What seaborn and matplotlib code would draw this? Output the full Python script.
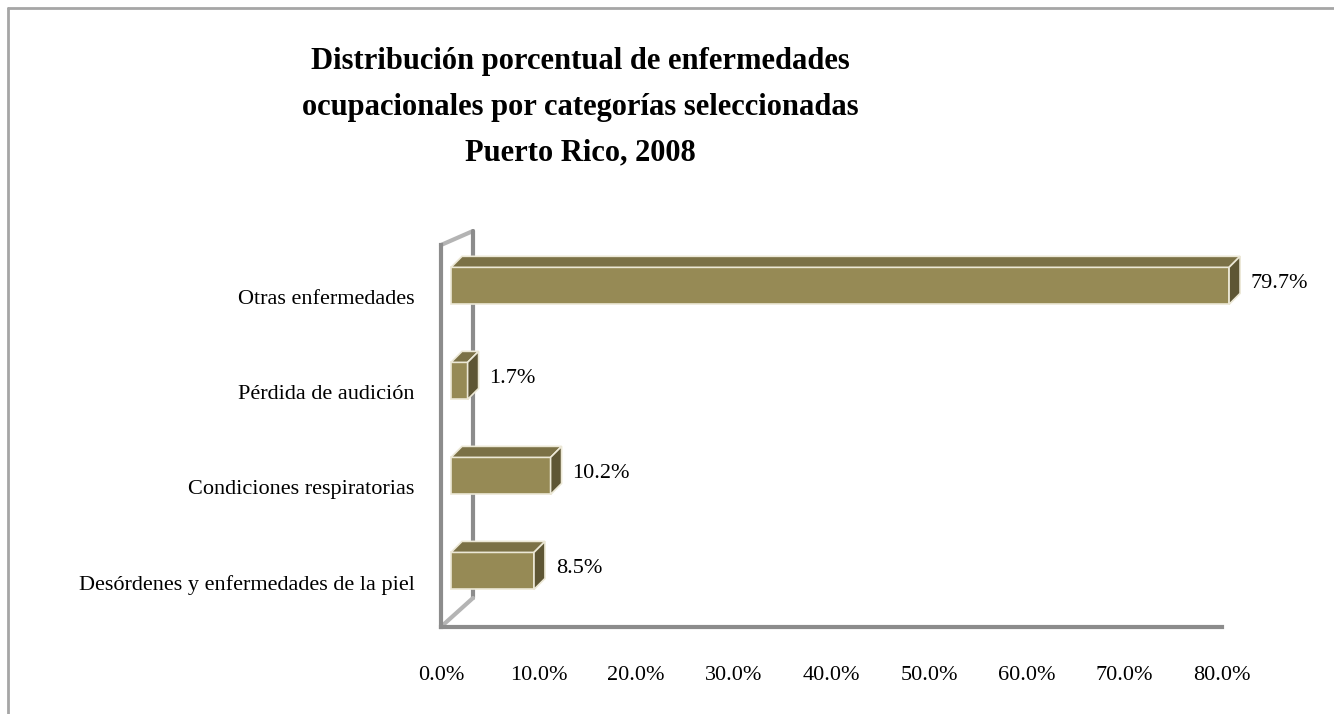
import matplotlib
matplotlib.use('Agg')
import matplotlib.pyplot as plt
import matplotlib.transforms as mtransforms
from matplotlib.lines import Line2D
from matplotlib.patches import Polygon
import pandas as pd
import seaborn as sns

# datos
categorias = ['Otras enfermedades', 'Pérdida de audición',
              'Condiciones respiratorias', 'Desórdenes y enfermedades de la piel']
porcentajes = [79.7, 1.7, 10.2, 8.5]
xticks = [0, 10, 20, 30, 40, 50, 60, 70, 80]
titulo = ['Distribución porcentual de enfermedades',
          'ocupacionales por categorías seleccionadas',
          'Puerto Rico, 2008']

df = pd.DataFrame({'categoria': categorias, 'pct': porcentajes})

sns.set_style('white')
plt.rcParams['font.family'] = ['Liberation Serif', 'DejaVu Serif']
plt.rcParams['text.color'] = 'black'
plt.rcParams['xtick.labelcolor'] = 'black'
plt.rcParams['ytick.labelcolor'] = 'black'

W, H = 1334, 714
fig = plt.figure(figsize=(W / 100, H / 100), dpi=100)
ax = fig.add_axes([441 / W, 87 / H, (1222 - 441) / W, (627 - 245) / H])

front = '#968a55'
top_c = '#7b7146'
side_c = '#5e5634'
edge = '#ece8d6'
gris = '#8c8c8c'

sns.barplot(data=df, x='pct', y='categoria', orient='h', order=categorias,
            color=front, saturation=1, width=0.39, edgecolor=edge,
            linewidth=1.2, ax=ax, zorder=3)

ax.set_xlim(0, 80)
ax.set_ylim(3.59, -0.43)

# desplazamiento de las caras frontales y profundidad 3D
off = mtransforms.ScaledTranslation(10 / 100, 0, fig.dpi_scale_trans)
tr = ax.transData + off
dx = 11 / 9.76
dy = 11 / 95.0

for p, val in zip(ax.patches, porcentajes):
    p.set_transform(tr)
    p.set_clip_on(False)
    x0, x1 = p.get_x(), p.get_x() + p.get_width()
    yt, yb = p.get_y(), p.get_y() + p.get_height()
    topf = Polygon([(x0, yt), (x1, yt), (x1 + dx, yt - dy), (x0 + dx, yt - dy)],
                   closed=True, facecolor=top_c, edgecolor=edge, lw=1.2,
                   transform=tr, clip_on=False, zorder=3)
    sidef = Polygon([(x1, yt), (x1 + dx, yt - dy), (x1 + dx, yb - dy), (x1, yb)],
                    closed=True, facecolor=side_c, edgecolor=edge, lw=1.2,
                    transform=tr, clip_on=False, zorder=3)
    ax.add_patch(topf)
    ax.add_patch(sidef)
    yc = (yt + yb) / 2
    ax.text(x1 + dx + 1.1, yc - dy / 4, f'{val:.1f}%', transform=tr,
            ha='left', va='center', fontsize=16, color='black')

# pared lateral (efecto 3D)
def fpt(x, y):
    return x / W, 1 - y / H
wall = [((441, 245), (473, 231), '#b4b4b4'),
        ((473, 231), (473, 598), gris),
        ((473, 598), (443, 625), '#b4b4b4')]
for a, b, col in wall:
    (xa, ya), (xb, yb_) = fpt(*a), fpt(*b)
    ax.add_line(Line2D([xa, xb], [ya, yb_], transform=fig.transFigure,
                       color=col, lw=3, zorder=1, clip_on=False))

for s in ['top', 'right']:
    ax.spines[s].set_visible(False)
for s in ['left', 'bottom']:
    ax.spines[s].set_color(gris)
    ax.spines[s].set_linewidth(3)

ax.set_xticks(xticks)
ax.set_xticklabels([f'{v:.1f}%' for v in xticks])
ax.tick_params(axis='x', direction='out', length=5, width=2, color=gris,
               labelsize=16, pad=23)
ax.set_yticks([i + 0.12 for i in range(len(categorias))])
ax.set_yticklabels(categorias)
ax.set_yticks([-0.43, 0.57, 1.57, 2.57, 3.59], minor=True)
ax.tick_params(axis='y', which='major', length=0, labelsize=16, pad=19)
ax.tick_params(axis='y', which='minor', direction='out', length=4, width=1.5, color=gris)
ax.set_xlabel('')
ax.set_ylabel('')
ax.grid(False)

# titulo
for i, linea in enumerate(titulo):
    fig.text(580 / W, 1 - (61 + 46 * i) / H, linea, ha='center', va='center',
             fontsize=22, fontweight='bold', color='black')

# marco
fig.add_artist(Line2D([8 / W, 1], [1 - 8 / H, 1 - 8 / H], transform=fig.transFigure,
                      color='#a6a6a6', lw=2))
fig.add_artist(Line2D([8 / W, 8 / W], [0, 1 - 8 / H], transform=fig.transFigure,
                      color='#a6a6a6', lw=2))

fig.savefig('out.png', dpi=100)
